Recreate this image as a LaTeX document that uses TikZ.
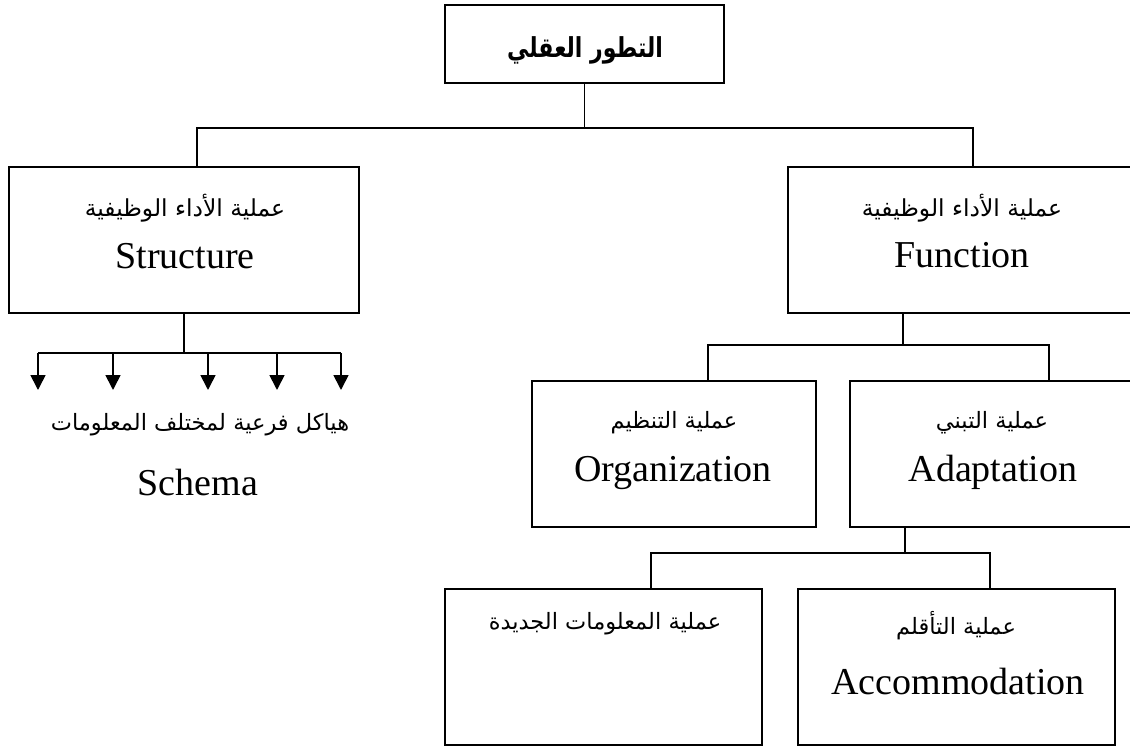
\documentclass[tikz,border=0pt]{standalone}
\usepackage{fontspec}
\setmainfont{Liberation Serif}
\newfontfamily\arabicfont[Script=Arabic]{DejaVu Sans}
\TeXXeTstate=1
\usetikzlibrary{arrows.meta,calc}
\begin{document}
\begin{tikzpicture}[x=1pt,y=-1pt,line width=1.7pt,
  box/.style={draw,rectangle,inner sep=0pt,outer sep=0pt},
  ar/.style={font=\arabicfont\fontsize{22.5}{26}\selectfont,inner sep=0pt},
  arbig/.style={font=\arabicfont\fontsize{23.4}{27}\selectfont,inner sep=0pt},
  artitle/.style={font=\arabicfont\bfseries\fontsize{27.5}{31}\selectfont,inner sep=0pt},
  en/.style={font=\fontsize{38}{41}\selectfont,inner sep=0pt,anchor=base},
  arr/.style={-{Triangle[length=15pt,width=15pt]}}]
\useasboundingbox (0,0) rectangle (1130,746);
\clip (0,0) rectangle (1130,746);
% boxes
\node[box,minimum width=279pt,minimum height=78pt] (top) at (584.5,44) {};
\node[box,minimum width=350pt,minimum height=146pt] (struct) at (184,240) {};
\node[box,minimum width=348pt,minimum height=146pt] (func) at (962,240) {};
\node[box,minimum width=284pt,minimum height=146pt] (org) at (674,454) {};
\node[box,minimum width=286pt,minimum height=146pt] (adapt) at (993,454) {};
\node[box,minimum width=317pt,minimum height=156pt] (newinfo) at (603.5,667) {};
\node[box,minimum width=317pt,minimum height=156pt] (accom) at (956.5,667) {};
% texts
\node[artitle] (ttop) at (585,50) {\scalebox{0.8}[1]{\beginR التطور العقلي\endR}};
\node[arbig] (tstruct) at (185,208) {\beginR عملية الأداء الوظيفية\endR};
\node[en] (estruct) at (185,269) {Structure};
\node[arbig] (tfunc) at (962,208) {\beginR عملية الأداء الوظيفية\endR};
\node[en] (efunc) at (962,268) {Function};
\node[ar] (tschema) at (200,425) {\beginR هياكل فرعية لمختلف المعلومات\endR};
\node[en] (eschema) at (198,495) {Schema};
\node[ar] (torg) at (674,423) {\beginR عملية التنظيم\endR};
\node[en] (eorg) at (673,481) {Organization};
\node[ar] (tadapt) at (992,423) {\beginR عملية التبني\endR};
\node[en] (eadapt) at (993,481) {Adaptation};
\node[ar] (tnew) at (605,624) {\beginR عملية المعلومات الجديدة\endR};
\node[ar] (taccom) at (956,626) {\beginR عملية التأقلم\endR};
\node[en] (eaccom) at (958,694) {Accommodation};
% connectors level 1
\coordinate (hL) at (197,128);
\coordinate (hR) at (973,128);
\draw (top.south) -- (top.south |- hL);
\draw (hL |- struct.north) -- (hL) -- (hR) -- (hR |- func.north);
% structure arrows
\coordinate (s1) at (38,353);
\coordinate (s2) at (113,353);
\coordinate (s3) at (208,353);
\coordinate (s4) at (277,353);
\coordinate (s5) at (341,353);
\draw (struct.south) -- (struct.south |- s1);
\draw (s1) -- (s5);
\foreach \i in {1,...,5} {\coordinate (e\i) at ($(s\i)+(0,37)$);}
\foreach \i in {1,...,5} {\draw[arr] (s\i) -- (e\i);}
% function branches
\coordinate (fj) at (903,345);
\coordinate (f1) at (708,345);
\coordinate (f2) at (1049,345);
\draw (fj |- func.south) -- (fj);
\draw (f1 |- org.north) -- (f1) -- (f2) -- (f2 |- adapt.north);
% adaptation branches
\coordinate (aj) at (905,553);
\coordinate (b1) at (651,553);
\coordinate (b2) at (990,553);
\draw (aj |- adapt.south) -- (aj);
\draw (b1 |- newinfo.north) -- (b1) -- (b2) -- (b2 |- accom.north);
\end{tikzpicture}
\end{document}
